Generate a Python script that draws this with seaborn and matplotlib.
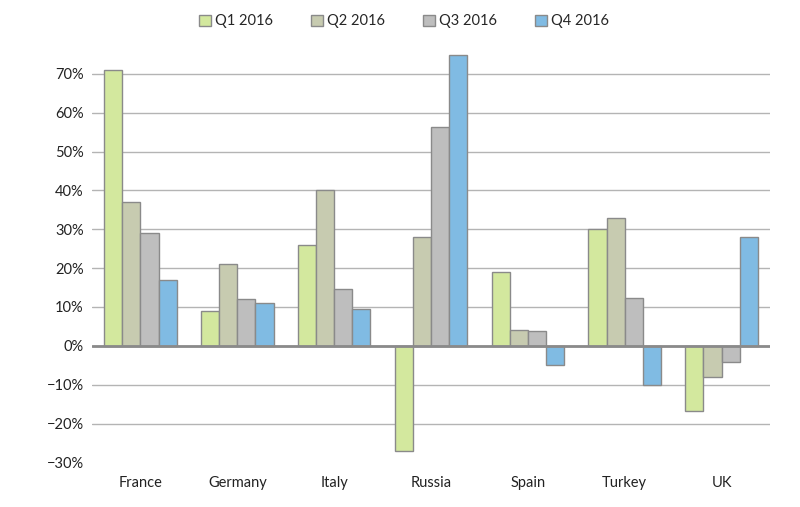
import pandas as pd
import numpy as np
import matplotlib
matplotlib.use('Agg')
import matplotlib.pyplot as plt
import seaborn as sns
from matplotlib.ticker import PercentFormatter

countries = ['France', 'Germany', 'Italy', 'Russia', 'Spain', 'Turkey', 'UK']
quarters = ['Q1 2016', 'Q2 2016', 'Q3 2016', 'Q4 2016']

q1 = [71, 9, 26, -27, 19, 30, -16.7]
q2 = [37, 21, 40, 28, 4, 33, -7.9]
q3 = [29, 12, 14.6, 56.4, 3.8, 12.2, -4.2]
q4 = [17, 11, 9.6, 74.8, -5, -10, 28]

colors = ['#d3e89e', '#c7cbb0', '#bebebe', '#80bbe3']

df = pd.DataFrame({
    'country': countries * 4,
    'quarter': np.repeat(quarters, len(countries)),
    'value': np.array(q1 + q2 + q3 + q4) / 100,
})

sns.set_style('white')
plt.rcParams['font.family'] = ['Lato', 'DejaVu Sans']

fig = plt.figure(figsize=(8, 5.07), dpi=100)
ax = fig.add_axes([0.115, 0.088, 0.8475, 0.843])

sns.barplot(data=df, x='country', y='value', hue='quarter', palette=colors,
            saturation=1, width=0.75, edgecolor='#8a8a8a', linewidth=1,
            ax=ax, legend=True)

ax.set_ylim(-0.30, 0.80)
ax.set_yticks(np.arange(-0.3, 0.71, 0.1))
ax.yaxis.set_major_formatter(PercentFormatter(1.0, decimals=0))
ax.yaxis.grid(True, color='#b4b4b4', linewidth=1)
ax.set_axisbelow(True)
ax.get_ygridlines()[0].set_visible(False)
ax.axhline(0, color='#8a8a8a', linewidth=2, zorder=1)

for s in ax.spines.values():
    s.set_visible(False)
ax.tick_params(axis='both', length=0, labelsize=10.5, colors='#222222', pad=6)
ax.tick_params(axis='x', pad=10)
ax.set_xlabel('')
ax.set_ylabel('')
ax.set_xlim(-0.5, len(countries) - 0.5)

handles, labels = ax.get_legend_handles_labels()
ax.get_legend().remove()
fig.legend(handles, labels, loc='center', bbox_to_anchor=(0.505, 0.958), ncol=4,
           frameon=False, fontsize=10.5, handlelength=0.8, handleheight=0.8,
           handletextpad=0.3, columnspacing=2.6)

fig.savefig('out.png', dpi=100)
